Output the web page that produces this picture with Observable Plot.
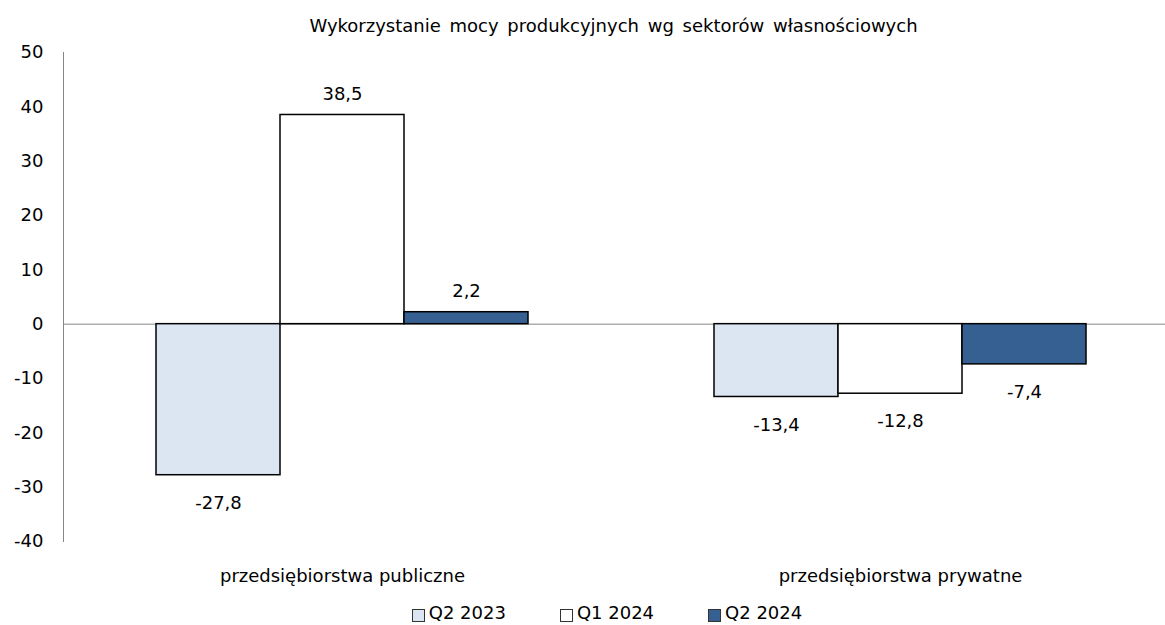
<!DOCTYPE html>
<html>
<head>
<meta charset="utf-8">
<script src="https://cdn.jsdelivr.net/npm/d3@7"></script>
<script src="https://cdn.jsdelivr.net/npm/@observablehq/plot@0.6"></script>
<style>
html, body { margin: 0; padding: 0; background: #fff; overflow: hidden; width: 1165px; height: 625px; }
body { font-family: "DejaVu Sans", Verdana, sans-serif; color: #000; }
#title { height: 42px; box-sizing: border-box; padding-top: 16px; padding-left: 62px; line-height: 20px; font-size: 18px; text-align: center; word-spacing: 3px; white-space: nowrap; }
#chart { height: 553px; overflow: hidden; }
#legend { margin-top: 3px; height: 30px; line-height: 30px; font-size: 18px; display: flex; justify-content: center; padding-left: 49px; white-space: nowrap; }
.item { display: flex; align-items: center; margin: 0 27px; }
.sw { width: 11px; height: 11px; border: 1px solid #333; margin-right: 4px; position: relative; top: 2px; }
</style>
</head>
<body>
<div id="title">Wykorzystanie mocy produkcyjnych wg sektorów własnościowych</div>
<div id="chart"></div>
<div id="legend"></div>
<script>
// ---- data ----
const categories = ["przedsiębiorstwa publiczne", "przedsiębiorstwa prywatne"];
const series = ["Q2 2023", "Q1 2024", "Q2 2024"];
const q2_2023 = [-27.8, -13.4];
const q1_2024 = [38.5, -12.8];
const q2_2024 = [2.2, -7.4];
const yTicks = [-40, -30, -20, -10, 0, 10, 20, 30, 40, 50];
const seriesColors = ["#DCE6F2", "#FFFFFF", "#376092"];

const valuesBySeries = [q2_2023, q1_2024, q2_2024];
const data = [];
categories.forEach((cat, i) => {
  series.forEach((s, j) => data.push({cat, series: s, value: valuesBySeries[j][i]}));
});
const fmt = v => String(v).replace(".", ",");

const chart = Plot.plot({
  width: 1165,
  height: 553,
  marginTop: 10,
  marginBottom: 54,
  marginLeft: 62,
  marginRight: 0,
  style: {fontFamily: "'DejaVu Sans', Verdana, sans-serif", fontSize: "18px", color: "#000", background: "transparent", overflow: "visible"},
  fx: {domain: categories, range: [62, 1179.5], padding: 0, label: null},
  x: {domain: series, paddingInner: 0, paddingOuter: 0.75, axis: null},
  y: {domain: [-40, 50]},
  color: {domain: series, range: seriesColors},
  marks: [
    Plot.ruleY([0], {stroke: "#868686", strokeWidth: 1}),
    Plot.frame({anchor: "left", facetAnchor: "left", stroke: "#868686", strokeWidth: 1}),
    Plot.barY(data, {fx: "cat", x: "series", y1: 0, y2: "value", fill: "series", stroke: "#000", strokeWidth: 1.5}),
    Plot.text(data.filter(d => d.value >= 0), {fx: "cat", x: "series", y: "value", text: d => fmt(d.value), dy: -21, fontSize: 18, fill: "#000"}),
    Plot.text(data.filter(d => d.value < 0), {fx: "cat", x: "series", y: "value", text: d => fmt(d.value), dy: 28, fontSize: 18, fill: "#000"}),
    Plot.axisY({ticks: yTicks, tickSize: 0, tickPadding: 20, tickFormat: d => String(d), fontSize: 18, label: null}),
    Plot.axisFx({anchor: "bottom", tickSize: 0, tickPadding: 28, label: null, fontSize: 18})
  ]
});
document.getElementById("chart").appendChild(chart);

const legend = document.getElementById("legend");
series.forEach((s, j) => {
  const item = document.createElement("div");
  item.className = "item";
  const sw = document.createElement("span");
  sw.className = "sw";
  sw.style.background = seriesColors[j];
  const t = document.createElement("span");
  t.textContent = s;
  item.appendChild(sw);
  item.appendChild(t);
  legend.appendChild(item);
});
</script>
</body>
</html>
